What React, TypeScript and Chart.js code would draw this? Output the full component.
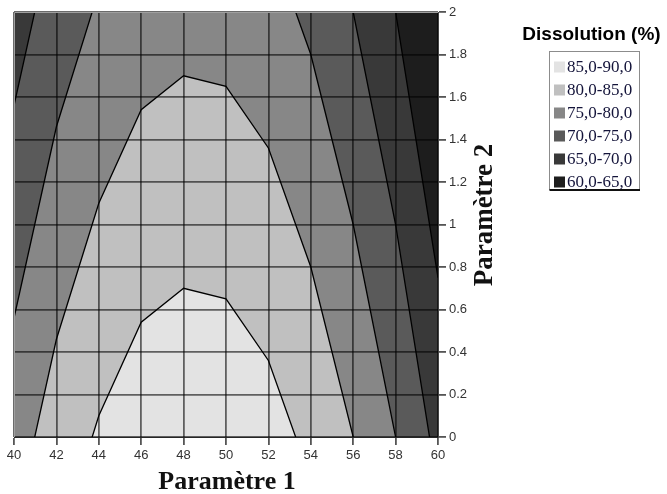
import React, { useEffect, useRef } from "react";
import { Chart, registerables } from "chart.js";

Chart.register(...registerables);

// Paramètre 1 grid positions
const PARAM1 = [40, 42, 44, 46, 48, 50, 52, 54, 56, 58, 60];
// Dissolution (%) read along the bottom edge (Paramètre 2 = 0) and top edge (Paramètre 2 = 2)
const DISSOLUTION_AT_P2_0 = [77.8, 82.3, 85.5, 87.7, 88.5, 88.25, 86.8, 84, 80, 75, 68.75];
const DISSOLUTION_AT_P2_2 = [67.8, 72.3, 75.5, 77.7, 78.5, 78.25, 76.8, 74, 70, 65, 58.75];
const P2_MIN = 0;
const P2_MAX = 2;

// Contour levels (lower bound of each band), highest first
const LEVELS = [85, 80, 75, 70, 65];
const BAND_LABELS = ["85,0-90,0", "80,0-85,0", "75,0-80,0", "70,0-75,0", "65,0-70,0", "60,0-65,0"];
const BAND_COLORS = ["#e3e3e3", "#c0c0c0", "#878787", "#5a5a5a", "#393939", "#1d1d1d"];
const LEGEND_TITLE = "Dissolution (%)";
const X_TITLE = "Paramètre 1";
const Y_TITLE = "Paramètre 2";

function contourFor(level: number) {
  return PARAM1.map((x, i) => {
    const z0 = DISSOLUTION_AT_P2_0[i];
    const z2 = DISSOLUTION_AT_P2_2[i];
    return { x, y: P2_MIN + ((P2_MAX - P2_MIN) * (z0 - level)) / (z0 - z2) };
  });
}

const decorPlugin = {
  id: "decor",
  beforeDraw(chart: any) {
    const { ctx, chartArea: a } = chart;
    ctx.save();
    ctx.fillStyle = BAND_COLORS[BAND_COLORS.length - 1];
    ctx.fillRect(a.left, a.top, a.right - a.left, a.bottom - a.top);
    ctx.restore();
  },
  afterDraw(chart: any) {
    const { ctx, chartArea: a } = chart;
    ctx.save();
    // light frame on top/left
    ctx.strokeStyle = "#a0a0a0";
    ctx.lineWidth = 1;
    ctx.beginPath();
    ctx.moveTo(a.left + 0.5, a.bottom);
    ctx.lineTo(a.left + 0.5, a.top + 0.5);
    ctx.lineTo(a.right, a.top + 0.5);
    ctx.stroke();

    // axis titles
    ctx.fillStyle = "#111";
    ctx.font = 'bold 26px "Liberation Serif", "Times New Roman", serif';
    ctx.textAlign = "center";
    ctx.textBaseline = "alphabetic";
    ctx.fillText(X_TITLE, 227, 489);

    ctx.save();
    ctx.translate(492, 215);
    ctx.rotate(-Math.PI / 2);
    ctx.font = 'bold 27px "Liberation Serif", "Times New Roman", serif';
    ctx.fillText(Y_TITLE, 0, 0);
    ctx.restore();

    // legend
    ctx.font = 'bold 19px "Liberation Sans", Arial, sans-serif';
    ctx.fillStyle = "#000";
    ctx.textAlign = "center";
    ctx.fillText(LEGEND_TITLE, 591.5, 40);

    const bx = 549.5, by = 51.5, bw = 90, bh = 138;
    ctx.strokeStyle = "#8c8c8c";
    ctx.lineWidth = 1;
    ctx.strokeRect(bx, by, bw, bh);
    ctx.strokeStyle = "#111";
    ctx.lineWidth = 2;
    ctx.beginPath();
    ctx.moveTo(bx, by + bh + 0.5);
    ctx.lineTo(bx + bw + 0.5, by + bh + 0.5);
    ctx.stroke();

    ctx.font = '17px "Liberation Serif", "Times New Roman", serif';
    ctx.textAlign = "left";
    ctx.textBaseline = "middle";
    BAND_LABELS.forEach((label, i) => {
      const cy = 67 + 23 * i;
      ctx.fillStyle = BAND_COLORS[i];
      ctx.fillRect(554, cy - 5.5, 11, 11);
      ctx.fillStyle = "#14143a";
      ctx.fillText(label, 567, cy + 1);
    });
    ctx.restore();
  },
};

export default function App() {
  const ref = useRef<HTMLCanvasElement | null>(null);

  useEffect(() => {
    if (!ref.current) return;
    const gridColor = "rgba(0,0,0,0.58)";
    const chart = new Chart(ref.current, {
      type: "line",
      data: {
        datasets: LEVELS.map((lvl, i) => ({
          label: BAND_LABELS[i],
          data: contourFor(lvl),
          backgroundColor: BAND_COLORS[i],
          borderColor: "#000",
          borderWidth: 1.3,
          fill: "start",
          tension: 0,
          pointRadius: 0,
          pointHoverRadius: 0,
        })),
      },
      options: {
        animation: false,
        responsive: false,
        devicePixelRatio: 1,
        events: [],
        layout: { padding: { left: 14, top: 12, right: 0, bottom: 0 } },
        plugins: {
          legend: { display: false },
          tooltip: { enabled: false },
          filler: { drawTime: "beforeDatasetsDraw" },
        },
        scales: {
          x: {
            type: "linear",
            position: "bottom",
            min: 40,
            max: 60,
            afterFit: (s: any) => {
              s.height = 57;
            },
            ticks: {
              stepSize: 2,
              padding: 3,
              color: "#333",
              font: { family: '"Liberation Sans", Arial, sans-serif', size: 13 },
              callback: (v: any) => String(v),
              maxRotation: 0,
            },
            grid: {
              z: 1,
              color: gridColor,
              lineWidth: 1.8,
              tickColor: "#555",
              tickLength: 8,
            },
            border: { z: 1, color: "#444", width: 1 },
          },
          y: {
            type: "linear",
            position: "right",
            min: P2_MIN,
            max: P2_MAX,
            afterFit: (s: any) => {
              s.width = 229;
            },
            ticks: {
              stepSize: 0.2,
              padding: 3,
              color: "#333",
              font: { family: '"Liberation Sans", Arial, sans-serif', size: 13 },
              callback: (v: any) => String(Math.round(Number(v) * 10) / 10),
            },
            grid: {
              z: 1,
              color: gridColor,
              lineWidth: 1.8,
              tickColor: "#555",
              tickLength: 8,
            },
            border: { z: 1, color: "#444", width: 1 },
          },
        },
      },
      plugins: [decorPlugin],
    } as any);
    return () => chart.destroy();
  }, []);

  return (
    <div style={{ position: "fixed", left: 0, top: 0, width: 667, height: 494, background: "#fff" }}>
      <canvas ref={ref} width={667} height={494} style={{ width: 667, height: 494, display: "block" }} />
    </div>
  );
}
